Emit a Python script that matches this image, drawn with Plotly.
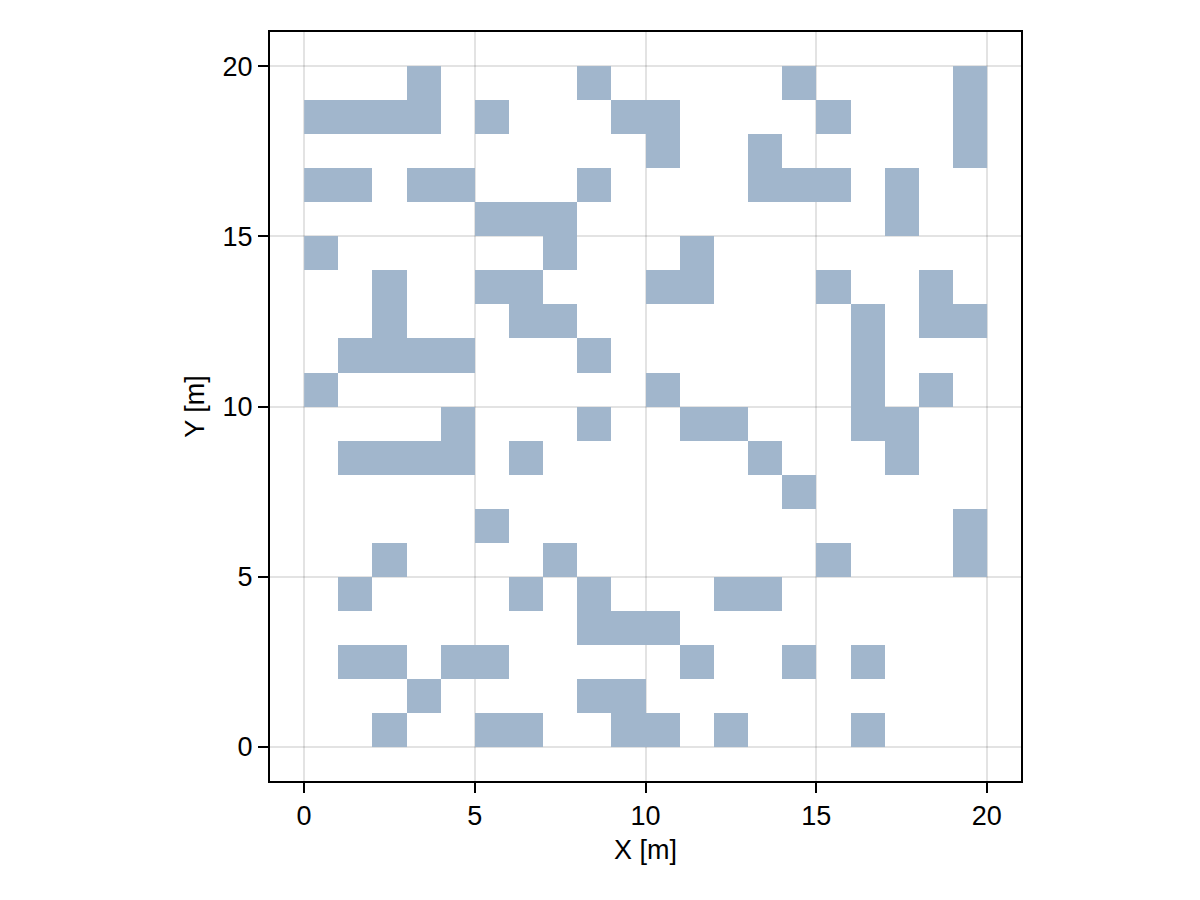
import plotly.graph_objects as go

# Occupied cells per row (row index = lower y of cell), listing lower x of cells
row_0 = [2, 5, 6, 9, 10, 12, 16]
row_1 = [3, 8, 9]
row_2 = [1, 2, 4, 5, 11, 14, 16]
row_3 = [8, 9, 10]
row_4 = [1, 6, 8, 12, 13]
row_5 = [2, 7, 15, 19]
row_6 = [5, 19]
row_7 = [14]
row_8 = [1, 2, 3, 4, 6, 13, 17]
row_9 = [4, 8, 11, 12, 16, 17]
row_10 = [0, 10, 16, 18]
row_11 = [1, 2, 3, 4, 8, 16]
row_12 = [2, 6, 7, 16, 18, 19]
row_13 = [2, 5, 6, 10, 11, 15, 18]
row_14 = [0, 7, 11]
row_15 = [5, 6, 7, 17]
row_16 = [0, 1, 3, 4, 8, 13, 14, 15, 17]
row_17 = [10, 13, 19]
row_18 = [0, 1, 2, 3, 5, 9, 10, 15, 19]
row_19 = [3, 8, 14, 19]

rows = [row_0, row_1, row_2, row_3, row_4, row_5, row_6, row_7, row_8, row_9,
        row_10, row_11, row_12, row_13, row_14, row_15, row_16, row_17, row_18, row_19]

x_centers = [i + 0.5 for i in range(20)]
y_centers = [j + 0.5 for j in range(20)]
z = [[1 if i in r else None for i in range(20)] for r in rows]

COLOR = "#a1b6cc"

fig = go.Figure(go.Heatmap(
    x=x_centers, y=y_centers, z=z,
    colorscale=[[0, COLOR], [1, COLOR]],
    showscale=False, hoverongaps=False, xgap=0, ygap=0,
))

axis_common = dict(
    range=[-1, 21], tickvals=[0, 5, 10, 15, 20],
    showgrid=True, gridcolor="rgba(0,0,0,0.11)", gridwidth=2,
    zeroline=False, showline=True, linecolor="black", linewidth=2, mirror=True,
    ticks="outside", ticklen=10, tickwidth=2, tickcolor="black",
    tickfont=dict(size=27, color="black"),
    title_font=dict(size=27, color="black"),
)

fig.update_layout(
    width=1200, height=900,
    margin=dict(l=270, r=179, t=32, b=119),
    paper_bgcolor="white", plot_bgcolor="white",
    font=dict(family="Liberation Sans, Arial, sans-serif", color="black"),
    xaxis=dict(axis_common, title=dict(text="X [m]", standoff=10)),
    yaxis=dict(axis_common, title=dict(text="Y [m]", standoff=10)),
)

fig.write_html("out.html")
